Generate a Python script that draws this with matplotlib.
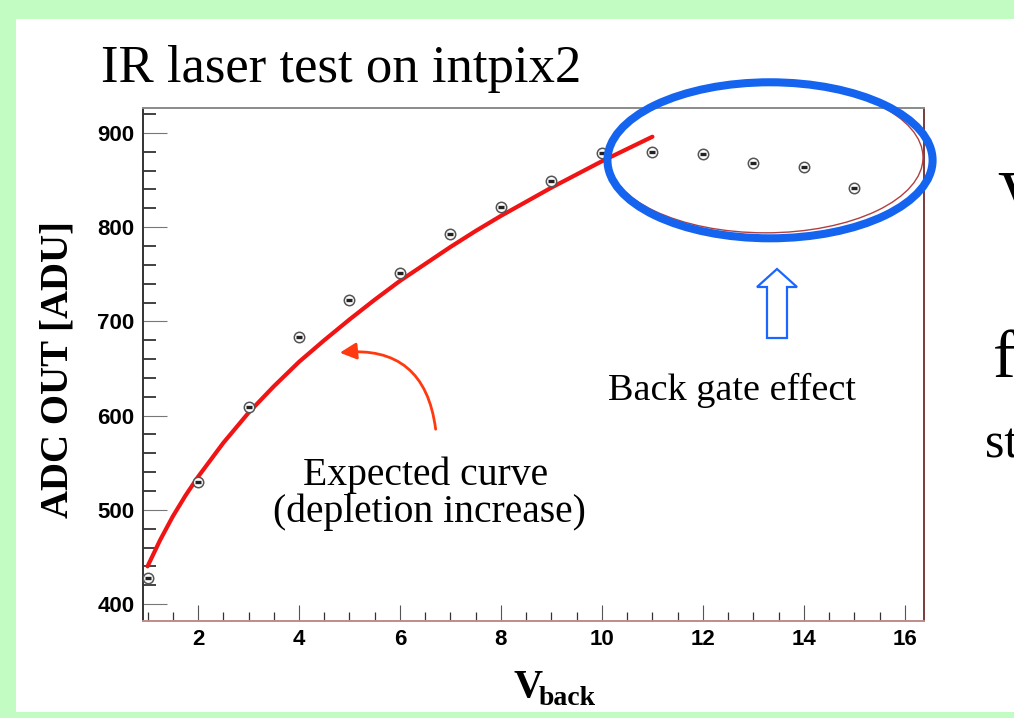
import numpy as np
import matplotlib
matplotlib.use("Agg")
import matplotlib.pyplot as plt
from matplotlib.patches import Rectangle, Ellipse, Polygon, FancyArrowPatch
from matplotlib.ticker import MultipleLocator

# ---- measured ADC output vs back bias ----
v_back = [1, 2, 3, 4, 5, 6, 7, 8, 9, 10, 11, 12, 13, 14, 15]
adc_out = [428, 530, 609, 683, 723, 751, 793, 821, 849, 879, 880, 878, 868, 864, 842]

# expected curve (depletion increase), sampled values
fit_v = [1, 1.25, 1.5, 1.75, 2, 2.5, 3, 3.5, 4, 4.5, 5, 5.5, 6, 6.5, 7,
         7.5, 8, 8.5, 9, 9.5, 10, 10.5, 11]
fit_adc = [440, 468, 493, 515, 535, 571, 603, 631, 657, 680, 702, 723, 743,
           761, 779, 796, 812, 827, 842, 856, 870, 883, 896]

x_ticks = [2, 4, 6, 8, 10, 12, 14, 16]
y_ticks = [400, 500, 600, 700, 800, 900]

W, H = 1014, 718
serif = "Liberation Serif"
sans = "Liberation Sans"


def px(x, y):
    # pixel position (from top-left) -> figure fraction
    return x / W, 1 - y / H


fig = plt.figure(figsize=(W / 100, H / 100), dpi=100)
fig.patch.set_facecolor("#c2fcc2")
fig.patches.append(Rectangle(px(16, 712), (W - 16) / W, (712 - 19) / H,
                             transform=fig.transFigure, facecolor="white",
                             edgecolor="none", zorder=-5))

ax = fig.add_axes([143 / W, 1 - 621 / H, (924 - 143) / W, (621 - 108) / H])
ax.set_zorder(1)
ax.patch.set_alpha(0)
ax.set_xlim(0.91, 16.38)
ax.set_ylim(382, 926.5)

ax.plot(fit_v, fit_adc, color="#f01414", lw=3.0, solid_capstyle="round", zorder=3)
ax.plot(v_back, adc_out, "o", mfc="white", mec="#555555", ms=7.5, mew=1.1, zorder=4)
ax.plot(v_back, adc_out, "_", color="#222222", ms=5, mew=2.4, zorder=5)

ax.xaxis.set_major_locator(MultipleLocator(2))
ax.xaxis.set_minor_locator(MultipleLocator(0.5))
ax.yaxis.set_major_locator(MultipleLocator(100))
ax.yaxis.set_minor_locator(MultipleLocator(20))
ax.set_xticks(x_ticks)
ax.set_yticks(y_ticks)
ax.tick_params(axis="y", which="major", direction="in", length=17, width=0.8,
               color="#777777", pad=6, labelsize=16)
ax.tick_params(axis="y", which="minor", direction="in", length=9, width=1.2,
               color="#222222")
ax.tick_params(axis="x", which="major", direction="in", length=11.5, width=0.8,
               color="#555555", pad=6, labelsize=16)
ax.tick_params(axis="x", which="minor", direction="in", length=6.5, width=0.9,
               color="#333333")
for lab in ax.get_xticklabels() + ax.get_yticklabels():
    lab.set_fontfamily(sans)
    lab.set_fontweight("bold")

ax.spines["top"].set_color("#8a8a8a")
ax.spines["left"].set_color("#333333")
ax.spines["bottom"].set_color("#c08a8a")
ax.spines["right"].set_color("#7a3a3a")
for s in ax.spines.values():
    s.set_linewidth(1.4)

# axis labels
fig.text(*px(58, 369), "ADC OUT [ADU]", rotation=90, ha="center", va="center",
         fontsize=28, fontweight="bold", family=serif)
fig.text(*px(513, 697), "V", ha="left", va="baseline", fontsize=29,
         fontweight="bold", family=serif)
fig.text(*px(539, 705), "back", ha="left", va="baseline", fontsize=20,
         fontweight="bold", family=serif)

fig.text(*px(101, 82), "IR laser test on intpix2", ha="left", va="baseline",
         fontsize=38, family=serif)

# annotations
fig.text(*px(426, 485), "Expected curve", ha="center", va="baseline",
         fontsize=28.5, family=serif)
fig.text(*px(429, 522), "(depletion increase)", ha="center", va="baseline",
         fontsize=28.5, family=serif)
fig.text(*px(732, 400), "Back gate effect", ha="center", va="baseline",
         fontsize=27.5, family=serif)

# back gate region markers
ax.add_patch(Ellipse((13.24, 874), 6.24, 160, fill=False, ec="#b04040",
                     lw=1.0, clip_on=False, zorder=6))
ax.add_patch(Ellipse((13.33, 871), 6.44, 165.6, fill=False, ec="#1464f0",
                     lw=5.8, clip_on=False, zorder=7))

up_arrow = [(777, 269), (797, 287), (787, 287), (787, 338), (767, 338),
            (767, 287), (757, 287)]
fig.patches.append(Polygon([px(x, y) for x, y in up_arrow], closed=True,
                           transform=fig.transFigure, fc="white",
                           ec="#1a66ff", lw=1.6, zorder=8))

fig.patches.append(FancyArrowPatch(px(436, 432), px(337, 353),
                                   transform=fig.transFigure,
                                   connectionstyle="arc3,rad=0.5",
                                   arrowstyle="-|>,head_length=10,head_width=5",
                                   color="#ff3a10", lw=2.0, zorder=8))

# text from the next column of the slide
fig.text(*px(997, 217), "V", ha="left", va="baseline", fontsize=48, family=serif)
fig.text(*px(993, 377), "f", ha="left", va="baseline", fontsize=49, family=serif)
fig.text(*px(985, 457), "st", ha="left", va="baseline", fontsize=36, family=serif)

fig.savefig("out.png", dpi=100)
